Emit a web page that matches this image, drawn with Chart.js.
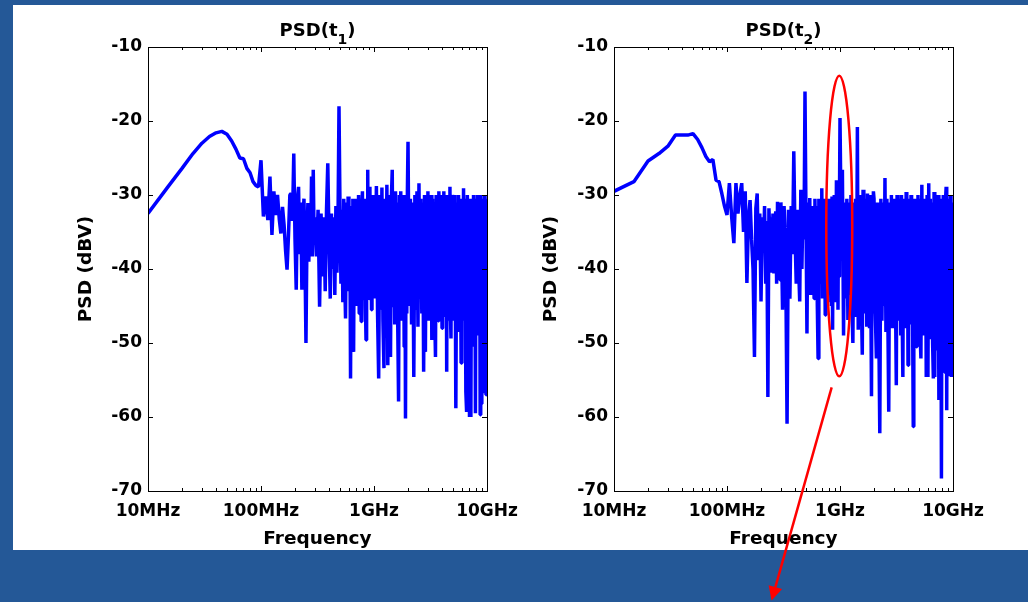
<!DOCTYPE html>
<html>
<head>
<meta charset="utf-8">
<script src="https://cdn.jsdelivr.net/npm/chart.js@4.4.1/dist/chart.umd.min.js"></script>
<style>
  body { margin: 0; background: #245897; width: 1028px; height: 602px; overflow: hidden; position: relative; }
  #panel { position: absolute; left: 13px; top: 5px; width: 1015px; height: 545px; background: #fff; }
  #c1 { position: absolute; left: 13px; top: 5px; }
  #c2 { position: absolute; left: 520px; top: 5px; }
</style>
</head>
<body>
<div id="panel"></div>
<canvas id="c1" width="540" height="545"></canvas>
<canvas id="c2" width="508" height="597"></canvas>
<script>
// frequency bins in MHz (shared by both spectra)
const freqMHz = [
  10, 15, 20, 25, 30, 35, 40, 45, 50, 55,
  60, 65, 70, 75, 80, 85, 90, 95, 100, 105,
  110, 115, 120, 125, 130, 135, 140, 145, 150, 155,
  160, 165, 170, 175, 180, 185, 190, 195, 200, 205,
  210, 215, 220, 225, 230, 235, 240, 245, 250, 255,
  260, 265, 270, 275, 280, 285, 290, 295,
  300, 310, 320, 330, 340, 350, 360, 370, 380, 390,
  400, 410, 420, 430, 440, 450, 460, 470, 480, 490,
  500, 510, 520, 530, 540, 550, 560, 570, 580, 590,
  600, 610, 620, 630, 640, 650, 660, 670, 680, 690,
  700, 710, 720, 730, 740, 750, 760, 770, 780, 790,
  800, 810, 820, 830, 840, 850, 860, 870, 880, 890,
  900, 910, 920, 930, 940, 950, 960, 970, 980, 990,
  1000, 1025, 1050, 1075, 1100, 1125, 1150, 1175,
  1200, 1225, 1250, 1275, 1300, 1325, 1350, 1375,
  1400, 1425, 1450, 1475, 1500, 1525, 1550, 1575,
  1600, 1625, 1650, 1675, 1700, 1725, 1750, 1775,
  1800, 1825, 1850, 1875, 1900, 1925, 1950, 1975,
  2000, 2050, 2100, 2150, 2200, 2250, 2300, 2350, 2400, 2450,
  2500, 2550, 2600, 2650, 2700, 2750, 2800, 2850, 2900, 2950,
  3000, 3050, 3100, 3150, 3200, 3250, 3300, 3350, 3400, 3450,
  3500, 3550, 3600, 3650, 3700, 3750, 3800, 3850, 3900, 3950,
  4000, 4050, 4100, 4150, 4200, 4250, 4300, 4350, 4400, 4450,
  4500, 4550, 4600, 4650, 4700, 4750, 4800, 4850, 4900, 4950,
  5000, 5100, 5200, 5300, 5400, 5500, 5600, 5700, 5800, 5900,
  6000, 6100, 6200, 6300, 6400, 6500, 6600, 6700, 6800, 6900,
  7000, 7100, 7200, 7300, 7400, 7500, 7600, 7700, 7800, 7900,
  8000, 8100, 8200, 8300, 8400, 8500, 8600, 8700, 8800, 8900,
  9000, 9100, 9200, 9300, 9400, 9500, 9600, 9700, 9800, 9900,
  10000
];

// PSD(t1) in dBV
const psdT1 = [
  -32.5, -28.9, -26.4, -24.4, -23.0, -22.1, -21.6, -21.4, -21.8, -22.7,
  -23.8, -25.0, -25.1, -26.4, -27.0, -28.2, -28.7, -28.9, -25.3, -32.9,
  -30.2, -33.4, -27.5, -35.4, -29.5, -32.7, -30.0, -33.2, -35.2, -31.6,
  -34.0, -37.5, -40.1, -35.5, -30.0, -29.8, -33.5, -24.4, -36.0, -42.8,
  -30.5, -28.9, -38.0, -31.0, -42.8, -33.5, -30.5, -38.5, -50.0, -36.0,
  -31.1, -39.0, -32.5, -37.0, -27.5, -38.3, -26.6, -36.0,
  -33.0, -38.3, -32.0, -45.1, -32.5, -41.0, -33.0, -43.0, -32.0, -25.7,
  -36.0, -44.0, -32.5, -40.0, -33.0, -43.5, -31.5, -40.5, -34.0, -18.0,
  -31.5, -42.0, -32.0, -44.5, -30.5, -41.0, -46.7, -31.0, -43.0, -30.2,
  -42.0, -31.5, -54.8, -32.0, -44.0, -30.5, -51.2, -31.0, -42.5, -30.5,
  -45.0, -32.0, -43.0, -30.0, -46.0, -31.0, -40.5, -47.1, -31.5, -29.5,
  -44.0, -31.0, -42.0, -30.5, -45.0, -49.6, -31.0, -40.0, -26.6, -42.5,
  -30.5, -44.0, -28.9, -41.5, -30.5, -45.5, -31.0, -43.0, -30.0, -42.0,
  -30.5, -44.0, -28.8, -46.0, -54.8, -30.0, -45.5, -29.0,
  -47.0, -53.4, -30.5, -44.5, -28.6, -53.0, -30.0, -46.5,
  -51.9, -30.5, -26.6, -45.0, -30.0, -47.5, -29.5, -44.0,
  -31.0, -48.5, -57.9, -30.0, -45.5, -29.5, -47.0, -30.5,
  -44.5, -30.0, -50.5, -31.0, -60.2, -30.0, -46.0, -29.5,
  -22.8, -45.0, -30.5, -47.5, -31.0, -54.6, -30.0, -45.5, -29.5, -47.8,
  -28.4, -44.0, -30.5, -46.0, -31.0, -53.9, -30.0, -51.2, -30.5, -44.5,
  -29.5, -47.0, -31.0, -45.0, -30.0, -49.6, -30.5, -44.0, -31.0, -46.5,
  -51.9, -30.0, -44.5, -30.5, -47.0, -29.5, -45.5, -31.0, -44.0, -30.0,
  -48.0, -30.5, -45.0, -29.5, -46.5, -31.0, -44.0, -30.0, -53.9, -30.5,
  -47.0, -30.0, -45.5, -31.0, -28.9, -46.0, -49.4, -30.5, -45.0, -30.0,
  -30.5, -47.0, -30.0, -58.8, -31.0, -46.0, -30.0, -48.5, -30.5, -52.7,
  -31.0, -45.5, -29.1, -47.0, -30.5, -56.6, -59.3, -30.0, -48.0, -31.0,
  -60.0, -30.5, -60.0, -31.0, -46.5, -50.5, -30.0, -47.5, -30.5, -59.5,
  -31.0, -46.0, -30.0, -49.0, -30.5, -47.5, -31.0, -59.7, -30.0, -58.2,
  -30.5, -48.0, -31.0, -50.0, -56.8, -30.0, -47.0, -30.5, -57.0, -31.0,
  -32.4
];

// PSD(t2) in dBV
const psdT2 = [
  -29.5, -28.2, -25.4, -24.4, -23.4, -21.9, -21.9, -21.9, -21.7, -22.5,
  -23.6, -24.8, -25.5, -25.2, -28.0, -28.2, -29.8, -31.5, -32.7, -28.4,
  -33.0, -36.5, -28.4, -32.5, -30.0, -28.4, -35.0, -29.5, -41.9, -33.0,
  -30.7, -36.0, -40.0, -51.9, -31.8, -29.8, -38.8, -32.5, -44.4, -33.0,
  -37.5, -31.5, -42.0, -33.5, -57.3, -31.8, -36.0, -33.0, -40.5, -32.5,
  -40.6, -34.0, -32.2, -42.0, -30.9, -38.0, -31.1, -41.5,
  -31.0, -45.5, -31.5, -37.0, -60.9, -32.0, -44.0, -31.5, -38.0, -24.1,
  -35.5, -42.0, -32.0, -39.5, -44.4, -29.3, -40.0, -31.0, -36.0, -16.0,
  -33.0, -48.7, -31.0, -42.5, -30.4, -43.5, -31.5, -40.0, -32.0, -44.0,
  -30.5, -41.0, -31.5, -45.0, -52.1, -30.5, -42.0, -31.0, -40.5, -29.1,
  -44.0, -31.5, -42.0, -30.5, -46.2, -32.0, -41.5, -30.5, -44.5, -31.0,
  -40.0, -32.0, -43.0, -30.5, -45.0, -30.2, -48.2, -31.5, -42.0, -30.0,
  -44.5, -31.0, -40.5, -28.0, -43.0, -30.5, -45.5, -31.0, -41.0, -30.0,
  -19.6, -35.0, -26.6, -49.0, -31.0, -44.0, -30.5, -46.9,
  -31.0, -43.5, -30.0, -45.0, -50.0, -31.0, -44.0, -30.5,
  -46.5, -20.8, -48.2, -31.0, -43.0, -30.0, -45.5, -51.6,
  -29.3, -44.5, -31.0, -46.0, -30.5, -47.8, -29.8, -45.0,
  -31.0, -48.0, -30.0, -44.0, -57.2, -30.5, -46.0, -29.5,
  -30.5, -45.5, -52.1, -31.0, -46.0, -62.2, -30.5, -47.0, -31.0, -45.0,
  -27.7, -48.5, -30.5, -46.0, -59.3, -31.0, -45.5, -30.0, -48.0, -31.0,
  -46.5, -30.5, -44.5, -55.7, -30.0, -47.0, -31.0, -45.0, -30.5, -49.0,
  -30.0, -46.0, -54.6, -31.0, -45.5, -30.5, -48.0, -29.6, -46.5, -31.0,
  -53.0, -30.5, -45.0, -31.0, -47.5, -30.0, -46.0, -31.0, -49.0, -61.3,
  -30.5, -46.0, -31.0, -48.0, -30.5, -50.5, -31.0, -45.5, -30.0, -47.0,
  -30.5, -48.0, -52.1, -28.6, -49.0, -30.5, -47.5, -31.0, -54.6, -30.0,
  -54.6, -28.4, -49.5, -30.5, -47.0, -31.0, -50.0, -54.8, -29.6, -54.6,
  -30.5, -48.5, -31.0, -51.0, -30.0, -57.7, -31.0, -48.0, -30.5, -68.3,
  -31.0, -50.5, -30.0, -48.5, -31.0, -54.0, -30.5, -28.9, -59.1, -31.0,
  -49.0, -30.5, -54.5, -31.0, -54.1, -30.0, -49.5, -54.6, -31.0, -48.0,
  -42.8
];

const xTickValues = [10, 100, 1000, 10000];
const xTickLabels = ['10MHz', '100MHz', '1GHz', '10GHz'];
const titleParts = [['PSD(t', '1', ')'], ['PSD(t', '2', ')']];

// red annotation on the second plot
const ellipseMark = { freqMHz: 985, topDb: -13.9, bottomDb: -54.5, halfDecades: 0.115 };
const arrowMark = { fromMHz: 844, fromDb: -56, toMHz: 248, toDb: -84.8 };

// 1..9 x decade positions for the minor ticks
const logTickValues = [];
[10, 100, 1000].forEach(d => { for (let k = 1; k < 10; k++) logTickValues.push(d * k); });
logTickValues.push(10000);

Chart.defaults.font.family = '"DejaVu Sans", sans-serif';
Chart.defaults.color = '#000';

const frameTicks = {
  id: 'frameTicks',
  afterDatasetsDraw(chart) {
    const { ctx, chartArea: a, scales: { x, y } } = chart;
    ctx.save();
    ctx.strokeStyle = '#000';
    ctx.lineWidth = 1;
    ctx.beginPath();
    x.ticks.forEach(t => {
      const px = Math.round(x.getPixelForValue(t.value)) + 0.5;
      const len = xTickValues.includes(t.value) ? 5 : 3;
      ctx.moveTo(px, a.bottom); ctx.lineTo(px, a.bottom - len);
      ctx.moveTo(px, a.top); ctx.lineTo(px, a.top + len);
    });
    y.ticks.forEach(t => {
      const py = Math.round(y.getPixelForValue(t.value)) + 0.5;
      ctx.moveTo(a.left, py); ctx.lineTo(a.left + 5, py);
      ctx.moveTo(a.right, py); ctx.lineTo(a.right - 5, py);
    });
    ctx.stroke();
    ctx.strokeRect(a.left + 0.5, a.top + 0.5, a.right - a.left, a.bottom - a.top);
    ctx.restore();
  }
};

const subTitle = {
  id: 'subTitle',
  afterDraw(chart, args, opts) {
    const { ctx, chartArea: a } = chart;
    const mainF = 'bold 18px "DejaVu Sans"';
    const subF = 'bold 14px "DejaVu Sans"';
    ctx.save();
    ctx.fillStyle = '#000';
    ctx.textAlign = 'left';
    ctx.textBaseline = 'alphabetic';
    ctx.font = mainF;
    const w1 = ctx.measureText(opts.parts[0]).width;
    const w3 = ctx.measureText(opts.parts[2]).width;
    ctx.font = subF;
    const w2 = ctx.measureText(opts.parts[1]).width;
    const x0 = (a.left + a.right) / 2 - (w1 + w2 + w3) / 2;
    const yb = a.top - 11;
    ctx.font = mainF;
    ctx.fillText(opts.parts[0], x0, yb);
    ctx.fillText(opts.parts[2], x0 + w1 + w2, yb);
    ctx.font = subF;
    ctx.fillText(opts.parts[1], x0 + w1, yb + 8);
    ctx.restore();
  }
};

const redMarks = {
  id: 'redMarks',
  afterDraw(chart) {
    const { ctx, scales: { x, y } } = chart;
    const k = Math.pow(10, ellipseMark.halfDecades);
    const cx = x.getPixelForValue(ellipseMark.freqMHz);
    const rx = (x.getPixelForValue(ellipseMark.freqMHz * k) - x.getPixelForValue(ellipseMark.freqMHz / k)) / 2;
    const yT = y.getPixelForValue(ellipseMark.topDb);
    const yB = y.getPixelForValue(ellipseMark.bottomDb);
    ctx.save();
    ctx.strokeStyle = '#ff0000';
    ctx.fillStyle = '#ff0000';
    ctx.lineWidth = 2.5;
    ctx.beginPath();
    ctx.ellipse(cx, (yT + yB) / 2, rx, (yB - yT) / 2, 0, 0, Math.PI * 2);
    ctx.stroke();

    const x1 = x.getPixelForValue(arrowMark.fromMHz), y1 = y.getPixelForValue(arrowMark.fromDb);
    const x2 = x.getPixelForValue(arrowMark.toMHz), y2 = y.getPixelForValue(arrowMark.toDb);
    const ang = Math.atan2(y2 - y1, x2 - x1);
    const hl = 14, hw = 7;
    const bx = x2 - hl * Math.cos(ang), by = y2 - hl * Math.sin(ang);
    ctx.beginPath();
    ctx.moveTo(x1, y1);
    ctx.lineTo(bx, by);
    ctx.stroke();
    ctx.beginPath();
    ctx.moveTo(x2, y2);
    ctx.lineTo(bx + hw * Math.sin(ang), by - hw * Math.cos(ang));
    ctx.lineTo(bx - hw * Math.sin(ang), by + hw * Math.cos(ang));
    ctx.closePath();
    ctx.fill();
    ctx.restore();
  }
};

function makePsdChart(canvasId, psd, parts, yWidth, yTitlePad, padding, extraPlugins) {
  return new Chart(document.getElementById(canvasId), {
    type: 'line',
    data: {
      datasets: [{
        data: freqMHz.map((f, i) => ({ x: f, y: psd[i] })),
        borderColor: '#0000ff',
        borderWidth: 3.5,
        borderJoinStyle: 'bevel',
        pointRadius: 0,
        tension: 0,
        fill: false
      }]
    },
    options: {
      responsive: false,
      devicePixelRatio: 1,
      animation: false,
      layout: { padding: padding },
      plugins: {
        legend: { display: false },
        title: { display: false },
        tooltip: { enabled: false },
        subTitle: { parts: parts }
      },
      scales: {
        x: {
          type: 'logarithmic',
          min: 10,
          max: 10000,
          grid: { display: false, drawTicks: false },
          border: { display: false },
          afterBuildTicks: scale => { scale.ticks = logTickValues.map(v => ({ value: v })); },
          afterFit: scale => { scale.height = 59; },
          ticks: {
            autoSkip: false,
            maxRotation: 0,
            minRotation: 0,
            padding: 10,
            color: '#000',
            font: { size: 17, weight: 'bold' },
            callback: v => {
              const i = xTickValues.indexOf(v);
              return i >= 0 ? xTickLabels[i] : '';
            }
          },
          title: {
            display: true,
            text: 'Frequency',
            color: '#000',
            font: { size: 18.5, weight: 'bold', lineHeight: 1.2 },
            padding: { top: 0, bottom: 0 }
          }
        },
        y: {
          min: -70,
          max: -10,
          grid: { display: false, drawTicks: false },
          border: { display: false },
          afterFit: scale => { scale.width = yWidth; },
          ticks: {
            stepSize: 10,
            padding: 6,
            color: '#000',
            font: { size: 17, weight: 'bold' }
          },
          title: {
            display: true,
            text: 'PSD (dBV)',
            color: '#000',
            font: { size: 18.5, weight: 'bold', lineHeight: 1.2 },
            padding: { top: yTitlePad, bottom: 0 }
          }
        }
      }
    },
    plugins: [frameTicks, subTitle].concat(extraPlugins)
  });
}

makePsdChart('c1', psdT1, titleParts[0], 135, 62, { top: 42, right: 66, bottom: 0, left: 0 }, []);
makePsdChart('c2', psdT2, titleParts[1], 94, 20, { top: 42, right: 75, bottom: 52, left: 0 }, [redMarks]);
</script>
</body>
</html>
